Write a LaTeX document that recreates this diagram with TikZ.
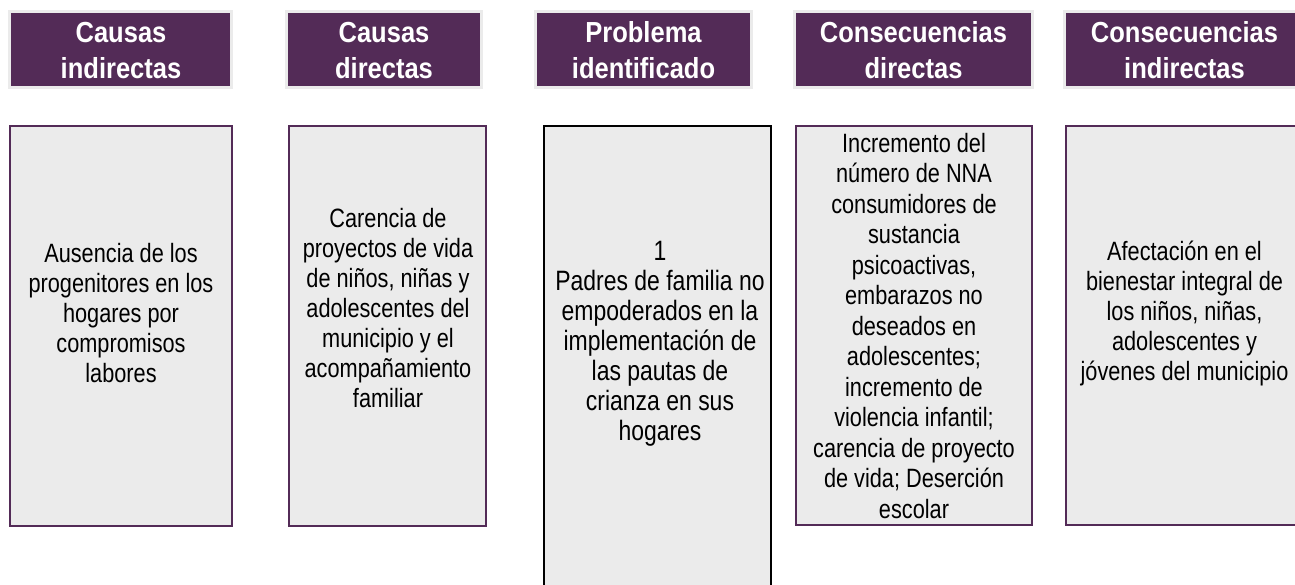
\documentclass[tikz,border=0pt]{standalone}
\usepackage{fontspec}
\setmainfont[FakeStretch=0.82]{Liberation Sans}
\newfontfamily\cabfont[FakeStretch=0.88]{Liberation Sans}
\usepackage{tikz}
\usetikzlibrary{positioning}
\definecolor{morado}{HTML}{532B57}
\definecolor{grisclaro}{HTML}{EBEBEB}
\tikzset{
	cabecera/.style={draw=grisclaro, line width=3pt, fill=morado, inner sep=0pt},
	cabtexto/.style={text=white, align=center, inner sep=0pt, anchor=base, font=\cabfont\bfseries\fontsize{29}{36}\selectfont},
	caja/.style={draw=morado, line width=2pt, fill=grisclaro, inner sep=0pt},
	cajatexto/.style={align=center, inner sep=0pt, anchor=base, font=\fontsize{26.5}{30}\selectfont}
}
\begin{document}
\begin{tikzpicture}[x=1pt,y=-1pt]
				\useasboundingbox (0,0) rectangle (1295,584);
				\clip (0,0) rectangle (1295,584);
				\fill[white] (0,0) rectangle (1295,584);
				\node[cabecera, minimum width=222pt, minimum height=76pt] (h1) at (120.75,49.5) {};
				\node[cabecera, minimum width=195pt, minimum height=76pt] (h2) at (384,49.5) {};
				\node[cabecera, minimum width=216pt, minimum height=76pt] (h3) at (643.5,49.5) {};
				\node[cabecera, minimum width=238pt, minimum height=76pt] (h4) at (913.5,49.5) {};
				\node[cabecera, minimum width=240pt, minimum height=76pt] (h5) at (1184.5,49.5) {};
				\node[cabtexto] (th1) at (121,78) {Causas\\indirectas};
				\node[cabtexto] (th2) at (384,78) {Causas\\directas};
				\node[cabtexto] (th3) at (643.5,78) {Problema\\identificado};
				\node[cabtexto] (th4) at (913.5,78) {Consecuencias\\directas};
				\node[cabtexto] (th5) at (1184.5,78) {Consecuencias\\indirectas};
				\node[caja, minimum width=222pt, minimum height=400pt] (c1) at (121,326) {};
				\node[caja, minimum width=197pt, minimum height=400pt] (c2) at (387.5,326) {};
				\node[caja, draw=black, line width=2.5pt, minimum width=227pt, minimum height=474pt] (c3) at (657.5,363) {};
				\node[caja, minimum width=236pt, minimum height=399pt] (c4) at (914,325.5) {};
				\node[caja, minimum width=237pt, minimum height=399pt] (c5) at (1184.5,325.5) {};
				\node[cajatexto] (tc1) at (121,382) {Ausencia de los\\progenitores en los\\hogares por\\compromisos\\labores};
				\node[cajatexto] (tc2) at (388,407) {Carencia de\\proyectos de vida\\de niños, niñas y\\adolescentes del\\municipio y el\\acompañamiento\\familiar};
				\node[cajatexto, font=\fontsize{28}{30}\selectfont] (tc3) at (660,440) {1\\Padres de familia no\\empoderados en la\\implementación de\\las pautas de\\crianza en sus\\hogares};
				\node[cajatexto, font=\fontsize{26.5}{30.5}\selectfont] (tc4) at (914,518) {Incremento del\\número de NNA\\consumidores de\\sustancia\\psicoactivas,\\embarazos no\\deseados en\\adolescentes;\\incremento de\\violencia infantil;\\carencia de proyecto\\de vida; Deserción\\escolar};
				\node[cajatexto] (tc5) at (1184.5,380) {Afectación en el\\bienestar integral de\\los niños, niñas,\\adolescentes y\\jóvenes del municipio};
			\end{tikzpicture}
\end{document}
